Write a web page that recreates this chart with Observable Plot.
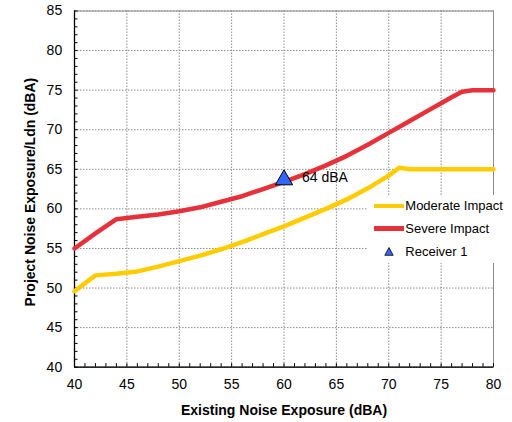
<!DOCTYPE html>
<html><head><meta charset="utf-8">
<script src="https://cdn.jsdelivr.net/npm/d3@7"></script>
<script src="https://cdn.jsdelivr.net/npm/@observablehq/plot@0.6"></script>
<style>
body{margin:0;background:#fff;font-family:"Liberation Sans",Arial,sans-serif;}
#wrap{position:relative;width:512px;height:422px;}
#legend{position:absolute;left:368px;top:195px;width:142px;height:68px;background:#fff;font-size:13px;color:#000;}
.row{position:absolute;left:0;height:16px;width:142px;}
.sw{position:absolute;left:5.7px;top:5.75px;width:30.6px;height:4.5px;}
.lab{position:absolute;left:37.3px;top:0;line-height:16px;white-space:nowrap;}
</style></head><body><div id="wrap"></div>
<script>
const xDomain = [40, 80];
const yDomain = [40, 85];
const xTicks = [40, 45, 50, 55, 60, 65, 70, 75, 80];
const yTicks = [40, 45, 50, 55, 60, 65, 70, 75, 80, 85];
const xMinor = d3.range(40, 81, 1);
const yMinor = d3.range(40, 86, 1);

const modX = [40, 42, 44, 46, 48, 50, 52, 54, 56, 58, 60, 62, 64, 66, 68, 70, 71, 72, 74, 76, 78, 80];
const modY = [49.6, 51.6, 51.8, 52.1, 52.7, 53.4, 54.1, 54.9, 55.8, 56.8, 57.8, 58.9, 60.0, 61.2, 62.6, 64.2, 65.2, 65.0, 65, 65, 65, 65];
const sevX = [40, 42, 44, 46, 48, 50, 52, 54, 56, 58, 60, 62, 64, 66, 68, 70, 72, 74, 75, 76, 77, 78, 80];
const sevY = [55, 56.9, 58.7, 59.0, 59.3, 59.7, 60.2, 60.9, 61.6, 62.5, 63.4, 64.4, 65.5, 66.7, 68.1, 69.6, 71.1, 72.6, 73.35, 74.1, 74.8, 75.0, 75];
const receiverX = [60];
const receiverY = [64];
const receiverLabels = ["64 dBA"];
const seriesNames = ["Moderate Impact", "Severe Impact", "Receiver 1"];
const seriesColors = ["#ffcc00", "#e5323a", "#3366ff"];
const xLabel = "Existing Noise Exposure (dBA)";
const yLabel = "Project Noise Exposure/Ldn (dBA)";

const moderate = modX.map((x, i) => ({x, y: modY[i]}));
const severe = sevX.map((x, i) => ({x, y: sevY[i]}));
const receivers = receiverX.map((x, i) => ({x, y: receiverY[i], label: receiverLabels[i]}));

const W = 512, H = 422, mL = 74, mR = 19, mT = 10.5, mB = 55.3;
const plotW = W - mL - mR, plotH = H - mT - mB;

const chart = Plot.plot({
  width: W, height: H,
  marginLeft: mL, marginRight: mR, marginTop: mT, marginBottom: mB,
  style: {fontFamily: "'Liberation Sans', Arial, sans-serif", fontSize: "14px", background: "white", color: "black"},
  x: {domain: xDomain},
  y: {domain: yDomain},
  marks: [
    Plot.gridX(xTicks, {stroke: "#8a8a8a", strokeOpacity: 1, strokeDasharray: "1.5,1.5"}),
    Plot.gridY(yTicks, {stroke: "#8a8a8a", strokeOpacity: 1, strokeDasharray: "1.5,1.5"}),
    Plot.frame({stroke: "#8a8a8a"}),
    Plot.ruleX([xDomain[0]], {stroke: "black", strokeWidth: 1.3}),
    Plot.ruleY([yDomain[0]], {stroke: "black", strokeWidth: 1.3}),
    Plot.tickX(xMinor, {x: d => d, insetTop: plotH - 3.5, stroke: "black"}),
    Plot.tickY(yMinor, {y: d => d, insetRight: plotW - 3.5, stroke: "black"}),
    Plot.axisX(xTicks, {tickSize: 0, tickPadding: 11.5, label: null, fontSize: 14}),
    Plot.axisY(yTicks, {tickSize: 0, tickPadding: 12.3, label: null, fontSize: 14}),
    Plot.line(moderate, {x: "x", y: "y", stroke: seriesColors[0], strokeWidth: 4.5}),
    Plot.line(severe, {x: "x", y: "y", stroke: seriesColors[1], strokeWidth: 4.5}),
    Plot.dot(receivers, {x: "x", y: "y", symbol: "triangle", r: 6.4, dy: 2.6, fill: seriesColors[2], stroke: "black", strokeWidth: 1}),
    Plot.text(receivers, {x: "x", y: "y", text: "label", dx: 18, textAnchor: "start", fontSize: 14, fill: "black"}),
    Plot.text([xLabel], {text: d => d, frameAnchor: "bottom", lineAnchor: "middle", textAnchor: "middle", dy: 43, fontWeight: "bold", fontSize: 14, fill: "black"}),
    Plot.text([yLabel], {text: d => d, frameAnchor: "left", lineAnchor: "middle", textAnchor: "middle", rotate: -90, dx: -44, dy: 3, fontWeight: "bold", fontSize: 14, fill: "black"})
  ]
});

const wrap = document.getElementById("wrap");
wrap.appendChild(chart);

const legend = document.createElement("div");
legend.id = "legend";
const rowTops = [3, 25.7, 48.7];
seriesNames.forEach((name, i) => {
  const row = document.createElement("div");
  row.className = "row";
  row.style.top = rowTops[i] + "px";
  if (i < 2) {
    const sw = document.createElement("div");
    sw.className = "sw";
    sw.style.background = seriesColors[i];
    row.appendChild(sw);
  } else {
    row.innerHTML = `<svg width="10" height="9" style="position:absolute;left:15.7px;top:3.5px"><path d="M5,0.5L9.2,8.3L0.8,8.3Z" fill="${seriesColors[2]}" stroke="black" stroke-width="0.8"/></svg>`;
  }
  const lab = document.createElement("div");
  lab.className = "lab";
  lab.textContent = name;
  row.appendChild(lab);
  legend.appendChild(row);
});
wrap.appendChild(legend);
</script>
</body></html>
